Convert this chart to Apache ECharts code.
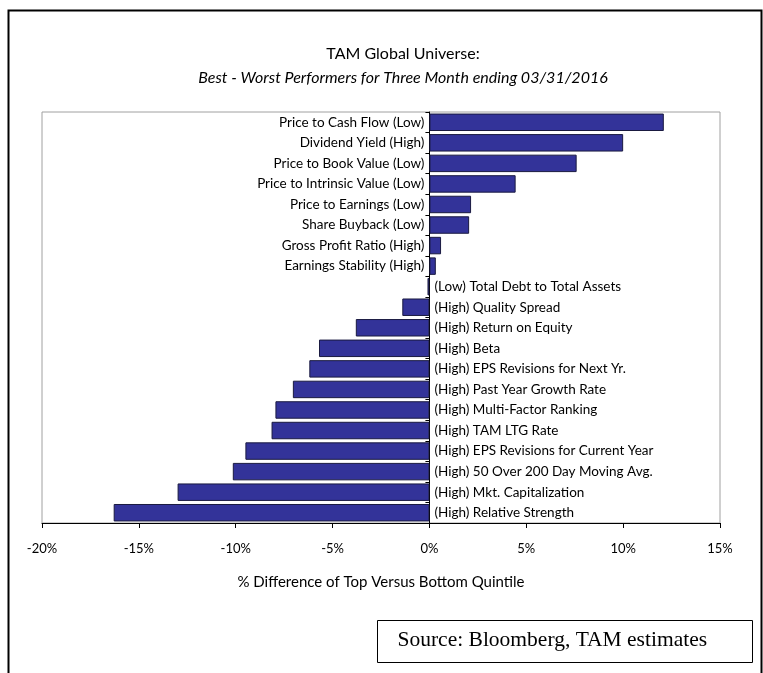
<!DOCTYPE html>
<html>
<head>
<meta charset="utf-8">
<script src="https://cdn.jsdelivr.net/npm/echarts@6/dist/echarts.min.js"></script>
<style>
  html, body { margin: 0; padding: 0; background: #fff; }
  #chart { width: 763px; height: 673px; }
</style>
</head>
<body>
<div id="chart"></div>
<script>
// categories top to bottom, labels already carry the (High)/(Low) side
const categories = [
  'Price to Cash Flow (Low)',
  'Dividend Yield (High)',
  'Price to Book Value (Low)',
  'Price to Intrinsic Value (Low)',
  'Price to Earnings (Low)',
  'Share Buyback (Low)',
  'Gross Profit Ratio (High)',
  'Earnings Stability (High)',
  '(Low) Total Debt to Total Assets',
  '(High) Quality Spread',
  '(High) Return on Equity',
  '(High) Beta',
  '(High) EPS Revisions for Next Yr.',
  '(High) Past Year Growth Rate',
  '(High) Multi-Factor Ranking',
  '(High) TAM LTG Rate',
  '(High) EPS Revisions for Current Year',
  '(High) 50 Over 200 Day Moving Avg.',
  '(High) Mkt. Capitalization',
  '(High) Relative Strength'
]
const values = [12.1, 10.0, 7.6, 4.45, 2.15, 2.05, 0.6, 0.33, -0.1, -1.4, -3.8, -5.7,
  -6.2, -7.05, -7.95, -8.15, -9.5, -10.15, -13.0, -16.3]
const xTicks = { min: -20, max: 15, interval: 5 }

const font = 'Lato, "Open Sans", sans-serif'

const chart = echarts.init(document.getElementById('chart'))
chart.setOption({
  backgroundColor: '#fff',
  animation: false,
  title: {
    text: 'TAM Global Universe:',
    subtext: 'Best - Worst Performers for Three Month ending 03/31/2016',
    left: 398,
    top: 41,
    textAlign: 'center',
    itemGap: 8,
    textStyle: { fontFamily: font, fontSize: 16, fontWeight: 'normal', color: '#000' },
    subtextStyle: { fontFamily: font, fontSize: 16, fontStyle: 'italic', color: '#000' }
  },
  grid: {
    left: 42, right: 43, top: 112, bottom: 150,
    show: true, borderColor: '#a0a0a0', borderWidth: 1
  },
  xAxis: {
    type: 'value',
    min: xTicks.min, max: xTicks.max, interval: xTicks.interval,
    splitLine: { show: false },
    axisLine: { show: true, onZero: false, lineStyle: { color: '#000' } },
    axisTick: { show: true, length: 5, lineStyle: { color: '#000' } },
    axisLabel: { formatter: v => v + '%', margin: 19, fontFamily: font, fontSize: 13, color: '#000' },
    name: '% Difference of Top Versus Bottom Quintile',
    nameLocation: 'middle',
    nameGap: 52,
    nameTextStyle: { fontFamily: font, fontSize: 15, color: '#000' }
  },
  yAxis: {
    type: 'category',
    inverse: true,
    data: categories,
    axisLine: { show: true, onZero: true, lineStyle: { color: '#000' } },
    axisTick: { show: true, length: 4, lineStyle: { color: '#000' } },
    axisLabel: { show: false },
    splitLine: { show: false }
  },
  series: [{
    type: 'bar',
    barCategoryGap: '15%',
    data: values.map(v => ({
      value: v,
      label: { position: v >= 0 ? 'left' : 'right' }
    })),
    itemStyle: { color: '#333399', borderColor: '#1a1a40', borderWidth: 1 },
    label: {
      show: true,
      distance: 5,
      formatter: p => p.name,
      fontFamily: font, fontSize: 13.5, color: '#000'
    }
  }],
  graphic: [
    {
      type: 'rect', left: 6, top: 8,
      shape: { width: 753, height: 700 },
      style: { fill: 'none', stroke: '#000', lineWidth: 2 }
    },
    {
      type: 'group', left: 377, top: 620,
      children: [
        { type: 'rect', shape: { width: 375, height: 42 }, style: { fill: '#fff', stroke: '#000', lineWidth: 1 } },
        { type: 'text', left: 20, top: 9,
          style: { text: 'Source: Bloomberg, TAM estimates', fill: '#000', fontFamily: '"Liberation Serif", serif', fontSize: 21.5 } }
      ]
    }
  ]
})
</script>
</body>
</html>
